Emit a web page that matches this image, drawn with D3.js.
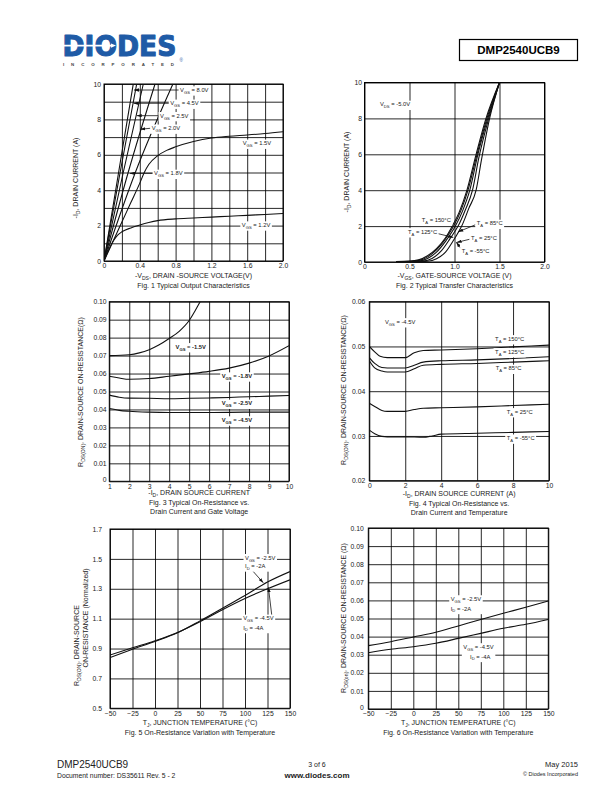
<!DOCTYPE html>
<html><head><meta charset="utf-8">
<script src="https://cdn.jsdelivr.net/npm/d3@7"></script>
<style>html,body{margin:0;padding:0;background:#fff}svg{display:block}</style>
</head><body><svg id="page" width="612" height="792"></svg>
<script>
// ---------------- DATA ----------------
// Fig 1: Typical output characteristics  [-VDS (V), -ID (A)]
const fig1_vgs80 = [[0,0],[0.163,5],[0.327,10]];
const fig1_vgs45 = [[0,0],[0.18,5],[0.365,10]];
const fig1_vgs25 = [[0,0],[0.215,5],[0.439,10]];
const fig1_vgs20 = [[0,0],[0.27,5],[0.57,10]];
const fig1_vgs18 = [[0,0],[0.35,5],[0.77,10]];
const fig1_vgs15 = [[0,0],[0.1,1.1],[0.2,2.2],[0.3,3.3],[0.4,4.4],[0.45,5.0],[0.5,5.45],[0.6,5.95],[0.7,6.25],[0.8,6.45],[1.0,6.75],[1.2,6.95],[1.4,7.05],[1.6,7.12],[1.8,7.2],[2.0,7.3]];
const fig1_vgs12 = [[0,0],[0.05,0.6],[0.1,1.1],[0.15,1.45],[0.2,1.65],[0.3,1.87],[0.4,2.03],[0.5,2.17],[0.6,2.28],[0.8,2.38],[1.0,2.43],[1.2,2.48],[1.4,2.53],[1.6,2.58],[1.8,2.63],[2.0,2.68]];
const fig1_xTicks = [0,0.4,0.8,1.2,1.6,2.0];
const fig1_yTicks = [0,2,4,6,8,10];
const fig1_xGrid = [0,0.2,0.4,0.6,0.8,1.0,1.2,1.4,1.6,1.8,2.0];
const fig1_yGrid = [0,1,2,3,4,5,6,7,8,9,10];

// Fig 2: Typical transfer characteristics [-VGS (V), -ID (A)]
const fig2_t150 = [[0.35,0.03],[0.5,0.05],[0.6,0.12],[0.7,0.35],[0.8,0.75],[0.9,1.35],[0.97,1.95],[1.05,2.75],[1.135,3.95],[1.24,6.0],[1.35,8.0],[1.5,10]];
const fig2_t125 = [[0.4,0.02],[0.55,0.05],[0.65,0.15],[0.75,0.45],[0.85,0.95],[0.93,1.5],[0.99,2.0],[1.07,2.85],[1.15,4.0],[1.25,6.0],[1.36,8.0],[1.5,10]];
const fig2_t85  = [[0.45,0.02],[0.6,0.05],[0.7,0.2],[0.8,0.55],[0.9,1.15],[1.01,2.0],[1.09,2.85],[1.17,4.0],[1.26,6.0],[1.37,8.0],[1.5,10]];
const fig2_t25  = [[0.5,0.01],[0.65,0.05],[0.75,0.2],[0.85,0.6],[0.95,1.3],[1.04,2.0],[1.12,2.9],[1.2,4.0],[1.27,5.8],[1.38,8.0],[1.5,10]];
const fig2_tm55 = [[0.55,0.01],[0.7,0.04],[0.8,0.18],[0.9,0.55],[1.0,1.3],[1.08,2.0],[1.16,3.0],[1.24,4.0],[1.3,5.7],[1.39,8.0],[1.5,10]];
const fig2_xTicks = [0,0.5,1.0,1.5,2.0];
const fig2_yTicks = [0,2,4,6,8,10];

// Fig 3: RDS(ON) vs drain current & gate voltage [-ID (A), R (ohm)]
const fig3_vgs15 = [[1,0.0700],[2,0.0705],[2.5,0.0715],[3,0.0733],[3.5,0.076],[4,0.0795],[4.5,0.0835],[5,0.0895],[5.3,0.095],[5.55,0.1]];
const fig3_vgs18 = [[1,0.0585],[1.5,0.0575],[2,0.0568],[3,0.0572],[4,0.0585],[5,0.0598],[6,0.0612],[7,0.063],[8,0.0658],[9,0.0698],[10,0.0755]];
const fig3_vgs25 = [[1,0.048],[1.5,0.0468],[2,0.0463],[3,0.0462],[4,0.046],[5,0.0462],[6,0.0464],[7,0.0467],[8,0.0471],[9,0.0474],[10,0.0478]];
const fig3_vgs45 = [[1,0.0405],[1.5,0.0395],[2,0.039],[3,0.0385],[4,0.0383],[5,0.0383],[6,0.0383],[7,0.0384],[8,0.0385],[9,0.0385],[10,0.0385]];
const fig3_xTicks = [1,2,3,4,5,6,7,8,9,10];
const fig3_yTicks = [0,0.01,0.02,0.03,0.04,0.05,0.06,0.07,0.08,0.09,0.10];

// Fig 4: RDS(ON) vs drain current & temperature
const fig4_t150 = [[0,0.0500],[0.3,0.0488],[0.6,0.0478],[1,0.0475],[2,0.0475],[2.5,0.0486],[3,0.0491],[4,0.0492],[6,0.0495],[8,0.0499],[10,0.0503]];
const fig4_t125 = [[0,0.0475],[0.3,0.0462],[0.7,0.0453],[1,0.0452],[2,0.0452],[2.5,0.0458],[3,0.0465],[4,0.0468],[6,0.0470],[8,0.0473],[10,0.0477]];
const fig4_t85  = [[0,0.0468],[0.3,0.0452],[0.7,0.0445],[1,0.0443],[2,0.0443],[2.5,0.045],[3,0.0458],[4,0.046],[6,0.0462],[8,0.0465],[10,0.0468]];
const fig4_t25  = [[0,0.0373],[0.3,0.0366],[0.7,0.0357],[1,0.0355],[2,0.0355],[2.5,0.0359],[3,0.0362],[4,0.0363],[6,0.0365],[8,0.0368],[10,0.0371]];
const fig4_tm55 = [[0,0.0313],[0.3,0.0305],[0.7,0.0299],[1,0.0298],[2,0.0298],[3,0.0297],[3.5,0.0300],[4,0.0304],[6,0.0306],[8,0.0308],[10,0.0310]];
const fig4_xTicks = [0,2,4,6,8,10];
const fig4_yTicks = [0.02,0.03,0.04,0.05,0.06];

// Fig 5: normalized RDS(ON) vs temperature [TJ (C), R norm]
const fig5_vgs25 = [[-50,0.84],[-25,0.895],[0,0.947],[25,1.005],[50,1.085],[75,1.17],[100,1.255],[125,1.345],[150,1.415]];
const fig5_vgs45 = [[-50,0.857],[-25,0.905],[0,0.952],[25,1.008],[50,1.08],[75,1.16],[100,1.235],[125,1.3],[150,1.36]];
const fig5_xTicks = [-50,-25,0,25,50,75,100,125,150];
const fig5_yTicks = [0.5,0.7,0.9,1.1,1.3,1.5,1.7];

// Fig 6: RDS(ON) vs temperature [TJ (C), R (ohm)]
const fig6_vgs25 = [[-50,0.035],[-25,0.0372],[0,0.0398],[25,0.0424],[50,0.0459],[75,0.0495],[100,0.0529],[125,0.0562],[150,0.0597]];
const fig6_vgs45 = [[-50,0.0311],[-25,0.033],[0,0.0344],[25,0.0363],[50,0.039],[75,0.0418],[100,0.0446],[125,0.0468],[150,0.0495]];
const fig6_xTicks = [-50,-25,0,25,50,75,100,125,150];
const fig6_yTicks = [0,0.01,0.02,0.03,0.04,0.05,0.06,0.07,0.08,0.09,0.10];

// ---------------- DRAWING ----------------
const svg = d3.select("#page");
const FONT = "'Liberation Sans', Arial, Helvetica, sans-serif";
const TXT = "#222";

const defs = svg.append("defs");
defs.append("marker").attr("id","arr").attr("viewBox","0 0 6 4").attr("refX",6).attr("refY",2)
  .attr("markerWidth",5).attr("markerHeight",3.4).attr("markerUnits","userSpaceOnUse").attr("orient","auto")
  .append("path").attr("d","M0,0L6,2L0,4Z").attr("fill","#111");

function rich(sel, str, size){
  const parts = str.split(/(_\{[^}]*\})/).filter(s=>s.length);
  let shifted=false;
  parts.forEach(p=>{
    if(p.startsWith("_{")){
      sel.append("tspan").attr("font-size",size*0.72).attr("dy",size*0.3).text(p.slice(2,-1));
      shifted=true;
    } else {
      const t=sel.append("tspan").text(p);
      if(shifted){t.attr("dy",-size*0.3);shifted=false;}
    }
  });
  return sel;
}

let clipId=0;
function drawChart(c){
  const g = svg.append("g");
  const [L,T,R,B] = c.box;
  const x = d3.scaleLinear().domain(c.xDomain).range([L,R]);
  const y = d3.scaleLinear().domain(c.yDomain).range([B,T]);
  const w=R-L, h=B-T;
  // grid
  g.append("g").attr("transform",`translate(0,${B})`)
    .call(d3.axisBottom(x).tickValues(c.xGrid).tickSize(-h).tickFormat(""))
    .call(s=>{s.select(".domain").remove();s.selectAll("line").attr("stroke","#000").attr("stroke-width",0.85);});
  g.append("g").attr("transform",`translate(${L},0)`)
    .call(d3.axisLeft(y).tickValues(c.yGrid).tickSize(-w).tickFormat(""))
    .call(s=>{s.select(".domain").remove();s.selectAll("line").attr("stroke","#000").attr("stroke-width",0.85);});
  g.append("rect").attr("x",L).attr("y",T).attr("width",w).attr("height",h)
    .attr("fill","none").attr("stroke","#000").attr("stroke-width",1);
  // tick labels
  const ax = g.append("g").attr("transform",`translate(0,${B})`)
    .call(d3.axisBottom(x).tickValues(c.xTicks).tickFormat(c.xFmt).tickSize(0).tickPadding(2.6));
  const ay = g.append("g").attr("transform",`translate(${L},0)`)
    .call(d3.axisLeft(y).tickValues(c.yTicks).tickFormat(c.yFmt).tickSize(0).tickPadding(c.yPad||3));
  [ax,ay].forEach(a=>{a.select(".domain").remove();a.selectAll("text").attr("font-family",FONT).attr("font-size",6.8).attr("fill",TXT);});
  if(c.yZeroLift){ ay.selectAll(".tick").filter(d=>d===c.yDomain[0]).select("text").attr("dy","0.1em"); }
  // curves
  const id="clip"+(clipId++);
  defs.append("clipPath").attr("id",id).append("rect").attr("x",L).attr("y",T-0.5).attr("width",w).attr("height",h+1);
  const line=d3.line().x(d=>x(d[0])).y(d=>y(d[1])).curve(d3.curveMonotoneX);
  g.append("g").attr("clip-path",`url(#${id})`).selectAll("path").data(c.series).join("path")
    .attr("d",d=>line(d)).attr("fill","none").attr("stroke","#111").attr("stroke-width",1.1);
  // annotations
  (c.labels||[]).forEach(lb=>{
    const size=lb.size||5.8;
    if(lb.arrow){
      g.append("line").attr("x1",x(lb.arrow[0])).attr("y1",y(lb.arrow[1])).attr("x2",x(lb.arrow[2])).attr("y2",y(lb.arrow[3]))
        .attr("stroke","#111").attr("stroke-width",0.8).attr("marker-end","url(#arr)");
    }
    const grp=g.append("g");
    lb.lines.forEach(ln=>{
      const t=grp.append("text").attr("x",x(ln[1])).attr("y",y(ln[2])+size*0.36)
        .attr("font-family",FONT).attr("font-size",size).attr("fill",TXT).attr("font-weight",lb.bold?"bold":"normal");
      rich(t,ln[0],size);
    });
    const bb=grp.node().getBBox();
    grp.insert("rect",":first-child").attr("x",bb.x-1.5).attr("y",bb.y-0.8).attr("width",bb.width+3).attr("height",bb.height+1.6).attr("fill","#fff");
  });
  // axis titles
  const cx=(L+R)/2;
  rich(g.append("text").attr("x",c.xTitleX||cx).attr("y",c.xTitleY).attr("text-anchor","middle")
    .attr("font-family",FONT).attr("font-size",7).attr("fill",TXT), c.xTitle, 7);
  c.caption.forEach((cap,i)=>{
    g.append("text").attr("x",c.xTitleX||cx).attr("y",c.capY+i*9).attr("text-anchor","middle")
      .attr("font-family",FONT).attr("font-size",7).attr("fill",TXT).text(cap);
  });
  c.yTitle.forEach(yt=>{
    const t=g.append("text").attr("transform",`translate(${yt.x+2.5},${yt.y}) rotate(-90)`)
      .attr("text-anchor",yt.anchor||"middle").attr("font-family",FONT).attr("font-size",7).attr("fill",TXT);
    rich(t,yt.t,7);
  });
}

const fmt1 = d=>d===0?"0":d3.format(".1f")(d);
const fmt2 = d=>d===0?"0":d3.format(".2f")(d);
const fmtD = d3.format("d");
const tGrid = [-50,-25,0,25,50,75,100,125,150];

// Fig 1
drawChart({box:[104,84,283,261], xDomain:[0,2], yDomain:[0,10],
  xGrid:fig1_xGrid, yGrid:fig1_yGrid, xTicks:fig1_xTicks, yTicks:fig1_yTicks, xFmt:fmt1, yFmt:fmtD,
  series:[fig1_vgs80,fig1_vgs45,fig1_vgs25,fig1_vgs20,fig1_vgs18,fig1_vgs15,fig1_vgs12],
  labels:[
    {lines:[["V_{GS} = 8.0V",0.85,9.66]],arrow:[0.84,9.66,0.335,9.66]},
    {lines:[["V_{GS} = 4.5V",0.74,8.91]],arrow:[0.73,8.91,0.33,8.91]},
    {lines:[["V_{GS} = 2.5V",0.626,8.21]],arrow:[0.615,8.21,0.365,8.21]},
    {lines:[["V_{GS} = 2.0V",0.533,7.5]],arrow:[0.52,7.5,0.405,7.44]},
    {lines:[["V_{GS} = 1.8V",0.56,4.95]],arrow:[0.545,4.95,0.29,4.95]},
    {lines:[["V_{GS} = 1.5V",1.55,6.65]]},
    {lines:[["V_{GS} = 1.2V",1.54,2.03]]}
  ],
  xTitle:"-V_{DS}, DRAIN -SOURCE VOLTAGE(V)", xTitleY:277.5, caption:["Fig. 1 Typical Output Characteristics"], capY:288,
  yTitle:[{t:"-I_{D}, DRAIN CURRENT (A)", x:75.7, y:178}]
});

// Fig 2
drawChart({box:[364.5,82.5,544.5,262], xDomain:[0,2], yDomain:[0,10],
  xGrid:fig2_xTicks, yGrid:fig2_yTicks, xTicks:fig2_xTicks, yTicks:fig2_yTicks, xFmt:fmt1, yFmt:fmtD, yPad:2.5,
  series:[fig2_t150,fig2_t125,fig2_t85,fig2_t25,fig2_tm55],
  labels:[
    {lines:[["V_{DS} = -5.0V",0.172,8.78]]},
    {lines:[["T_{A} = 150°C",0.636,2.33]]},
    {lines:[["T_{A} = 125°C",0.483,1.68]],arrow:[0.8,1.6,0.987,1.37]},
    {lines:[["T_{A} = 85°C",1.247,2.15]],arrow:[1.235,2.08,1.042,1.68]},
    {lines:[["T_{A} = 25°C",1.183,1.32]],arrow:[1.17,1.27,1.024,1.09]},
    {lines:[["T_{A} = -55°C",1.08,0.63]],arrow:[1.07,0.76,1.02,1.1]}
  ],
  xTitle:"-V_{GS}, GATE-SOURCE VOLTAGE (V)", xTitleY:277.5, caption:["Fig. 2  Typical Transfer Characteristics"], capY:288,
  yTitle:[{t:"-I_{D}, DRAIN CURRENT (A)", x:346.7, y:172}]
});

// Fig 3
drawChart({box:[109.3,301.7,289,481.3], xDomain:[1,10], yDomain:[0,0.1],
  xGrid:fig3_xTicks, yGrid:fig3_yTicks, xTicks:fig3_xTicks, yTicks:fig3_yTicks, xFmt:fmtD, yFmt:fmt2, yPad:2.7, yZeroLift:true,
  series:[fig3_vgs15,fig3_vgs18,fig3_vgs25,fig3_vgs45],
  labels:[
    {lines:[["V_{GS} = -1.5V",4.32,0.0749]],bold:true,size:5.8},
    {lines:[["V_{GS} = -1.8V",6.63,0.0586]],bold:true,size:5.8},
    {lines:[["V_{GS} = -2.5V",6.63,0.0434]],bold:true,size:5.8},
    {lines:[["V_{GS} = -4.5V",6.63,0.0341]],bold:true,size:5.8}
  ],
  xTitle:"-I_{D}, DRAIN SOURCE CURRENT", xTitleY:495, caption:["Fig. 3  Typical On-Resistance vs.","Drain Current and Gate Voltage"], capY:504.5,
  yTitle:[{t:"R_{DS(ON)}, DRAIN-SOURCE ON-RESISTANCE(Ω)", x:80, y:392}]
});

// Fig 4
drawChart({box:[369.3,301.7,549,480.7], xDomain:[0,10], yDomain:[0.02,0.06],
  xGrid:fig4_xTicks, yGrid:fig4_yTicks, xTicks:fig4_xTicks, yTicks:fig4_yTicks, xFmt:fmtD, yFmt:fmt2, yPad:4,
  series:[fig4_t150,fig4_t125,fig4_t85,fig4_t25,fig4_tm55],
  labels:[
    {lines:[["V_{GS} = -4.5V",0.87,0.0555]]},
    {lines:[["T_{A} = 150°C",7.0,0.0517]]},
    {lines:[["T_{A} = 125°C",7.0,0.0488]]},
    {lines:[["T_{A} = 85°C",7.03,0.0451]]},
    {lines:[["T_{A} = 25°C",7.65,0.0354]]},
    {lines:[["T_{A} = -55°C",7.65,0.0295]]}
  ],
  xTitle:"-I_{D}, DRAIN SOURCE CURRENT (A)", xTitleY:496, caption:["Fig. 4  Typical On-Resistance vs.","Drain Current and Temperature"], capY:506,
  yTitle:[{t:"R_{DS(ON)}, DRAIN-SOURCE ON-RESISTANCE(Ω)", x:343.3, y:390}]
});

// Fig 5
drawChart({box:[110,529,290,708.3], xDomain:[-50,150], yDomain:[0.5,1.7],
  xGrid:tGrid, yGrid:fig5_yTicks, xTicks:fig5_xTicks, yTicks:fig5_yTicks, xFmt:fmtD, yFmt:d3.format(".1f"), yPad:8,
  series:[fig5_vgs25,fig5_vgs45],
  labels:[
    {lines:[["V_{GS} = -2.5V",100,1.508],["I_{D} = -2A",100,1.452]],arrow:[107,1.43,120.3,1.34]},
    {lines:[["V_{GS} = -4.5V",98,1.102],["I_{D} = -4A",98,1.040]],arrow:[129.7,1.125,126,1.31]}
  ],
  xTitle:"T_{J}, JUNCTION TEMPERATURE (°C)", xTitleY:724.5, caption:["Fig. 5  On-Resistance Variation with Temperature"], capY:734.5,
  yTitle:[{t:"R_{DS(ON)}, DRAIN-SOURCE", x:76.7, y:686, anchor:"start"},{t:"ON-RESISTANCE (Normalized)", x:85, y:618}]
});

// Fig 6
drawChart({box:[368.3,528,548.3,709], xDomain:[-50,150], yDomain:[0,0.1],
  xGrid:tGrid, yGrid:fig6_yTicks, xTicks:fig6_xTicks, yTicks:fig6_yTicks, xFmt:fmtD, yFmt:fmt2, yPad:4.5, yZeroLift:true,
  series:[fig6_vgs25,fig6_vgs45],
  labels:[
    {lines:[["V_{GS} = -2.5V",41.6,0.0608],["I_{D} = -2A",41.6,0.0555]]},
    {lines:[["V_{GS} = -4.5V",55.6,0.0343],["I_{D} = -4A",63,0.0290]]}
  ],
  xTitle:"T_{J}, JUNCTION TEMPERATURE (°C)", xTitleY:724.5, caption:["Fig. 6  On-Resistance Variation with Temperature"], capY:734.5,
  yTitle:[{t:"R_{DS(on)}, DRAIN-SOURCE ON-RESISTANCE (Ω)", x:343.3, y:618}]
});

// ---------------- HEADER ----------------
const BLUE="#1f5ba6";
const logo = svg.append("text").attr("x",0).attr("y",0).attr("font-family","'DejaVu Sans', sans-serif").attr("font-weight","bold")
  .attr("font-size",28.5).attr("fill",BLUE)
  .attr("stroke",BLUE).attr("stroke-width",1.1).attr("stroke-linejoin","round").text("DIODES");
const logoW = logo.node().getComputedTextLength();
logo.attr("transform",`translate(62.5,56) scale(${114/logoW},1)`);
svg.append("line").attr("x1",62).attr("x2",112).attr("y1",45.6).attr("y2",45.6).attr("stroke","#fff").attr("stroke-width",1.8);
svg.append("path").attr("d","M111,43.4L116,45.6L111,47.8Z").attr("fill","#fff");
svg.append("text").attr("x",63).attr("y",66).attr("font-family",FONT).attr("font-weight","bold").attr("font-size",4.4)
  .attr("textLength",111).attr("lengthAdjust","spacing").attr("fill","#444").text("INCORPORATED");
svg.append("text").attr("x",179.5).attr("y",61.5).attr("font-family",FONT).attr("font-size",4.6).attr("fill",BLUE).text("®");
svg.append("rect").attr("x",459.5).attr("y",39.5).attr("width",118).attr("height",21).attr("fill","none").attr("stroke","#000").attr("stroke-width",1.2);
svg.append("text").attr("x",518.5).attr("y",54.2).attr("text-anchor","middle").attr("font-family",FONT).attr("font-weight","bold")
  .attr("font-size",11.5).attr("fill","#000").text("DMP2540UCB9");

// ---------------- FOOTER ----------------
const foot=[
  {t:"DMP2540UCB9",x:57,y:768,s:10,a:"start",w:"normal"},
  {t:"Document number: DS35611 Rev. 5 - 2",x:57,y:778,s:6.8,a:"start",w:"normal"},
  {t:"3 of 6",x:317,y:767,s:7,a:"middle",w:"normal"},
  {t:"www.diodes.com",x:317,y:777.5,s:8,a:"middle",w:"bold"},
  {t:"May 2015",x:578,y:767,s:7.5,a:"end",w:"normal"},
  {t:"© Diodes Incorporated",x:578,y:776,s:5.5,a:"end",w:"normal"}
];
foot.forEach(f=>svg.append("text").attr("x",f.x).attr("y",f.y).attr("text-anchor",f.a).attr("font-family",FONT)
  .attr("font-size",f.s).attr("font-weight",f.w).attr("fill","#222").text(f.t));
</script></body></html>
